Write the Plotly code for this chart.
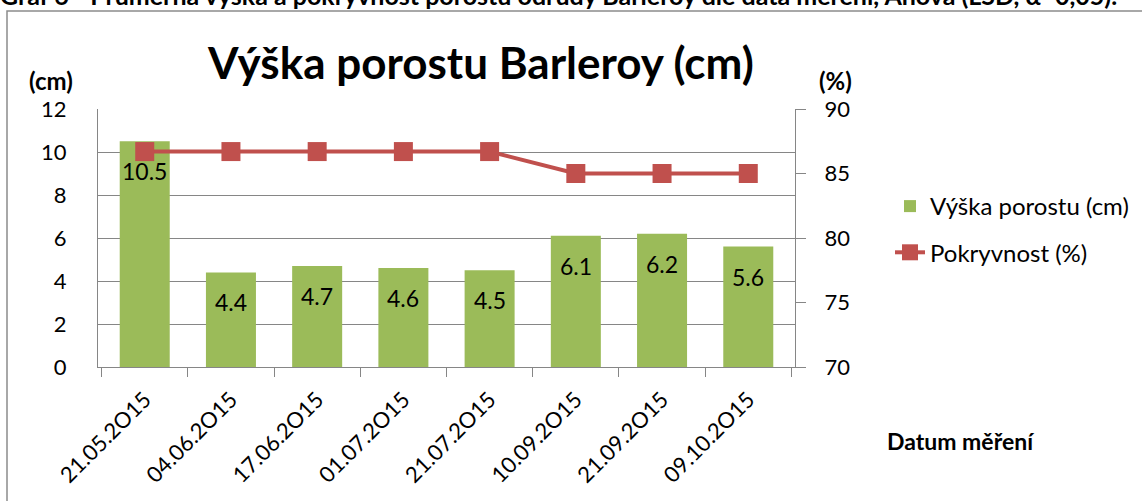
import plotly.graph_objects as go

# ---- data ----
dates = ["21.05.2O15", "04.06.2O15", "17.06.2O15", "01.07.2O15",
         "21.07.2O15", "10.09.2O15", "21.09.2O15", "09.10.2O15"]
vyska_cm = [10.5, 4.4, 4.7, 4.6, 4.5, 6.1, 6.2, 5.6]
pokryvnost_pct = [86.7, 86.7, 86.7, 86.7, 86.7, 85.0, 85.0, 85.0]

header = "Graf 6 - Průměrná výška a pokryvnost porostu odrůdy Barleroy dle data měření, Anova (LSD, α=0,05)."
title = "Výška porostu Barleroy (cm)"

# ---- layout geometry (pixels) ----
W, H = 1142, 501
L, R, T, B = 98, 795, 109, 367
FONT = "Lato, Calibri, sans-serif"
GRID = "#868686"
GREEN = "#9BBB59"
RED = "#C0504D"

def px_x(p):
    return (p - L) / (R - L)

def px_y(p):
    return 1 - (p - T) / (B - T)

fig = go.Figure()
fig.add_trace(go.Bar(
    x=dates, y=vyska_cm, name="Výška porostu (cm)",
    marker=dict(color=GREEN, line=dict(width=0)),
    legendgroup="a", yaxis="y",
))
fig.add_trace(go.Scatter(
    x=dates, y=pokryvnost_pct, name="Pokryvnost (%)",
    mode="lines+markers",
    line=dict(color=RED, width=4),
    marker=dict(symbol="square", size=19, color=RED),
    legendgroup="b", yaxis="y2",
))

annotations = []
for d, v in zip(dates, vyska_cm):
    annotations.append(dict(
        x=d, y=v, xref="x", yref="y", text=f"{v:.1f}", showarrow=False,
        yanchor="top", yshift=-14, font=dict(size=23, color="black", family=FONT),
    ))

annotations += [
    dict(x=px_x(481), y=px_y(62), xref="paper", yref="paper", text=f"<b>{title}</b>",
         showarrow=False, xanchor="center", yanchor="middle",
         font=dict(size=44, color="black", family=FONT)),
    dict(x=px_x(51), y=px_y(80), xref="paper", yref="paper", text="<b>(cm)</b>",
         showarrow=False, xanchor="center", yanchor="middle",
         font=dict(size=24, color="black", family=FONT)),
    dict(x=px_x(835), y=px_y(80), xref="paper", yref="paper", text="<b>(%)</b>",
         showarrow=False, xanchor="center", yanchor="middle",
         font=dict(size=24, color="black", family=FONT)),
    dict(x=px_x(960), y=px_y(441), xref="paper", yref="paper", text="<b>Datum měření</b>",
         showarrow=False, xanchor="center", yanchor="middle",
         font=dict(size=23, color="black", family=FONT)),
    dict(x=px_x(-2), y=px_y(-5), xref="paper", yref="paper", text=f"<b>{header}</b>",
         showarrow=False, xanchor="left", yanchor="middle",
         font=dict(size=25, color="black", family=FONT)),
]

shapes = [dict(
    type="rect", xref="paper", yref="paper",
    x0=px_x(7), x1=px_x(1160), y0=px_y(11), y1=px_y(520),
    line=dict(color="#8c8c8c", width=1.5), fillcolor="rgba(0,0,0,0)", layer="below",
)]

fig.update_layout(
    width=W, height=H,
    margin=dict(l=L, r=W - R, t=T, b=H - B, pad=0, autoexpand=False),
    paper_bgcolor="white", plot_bgcolor="white",
    font=dict(family=FONT, size=22, color="black"),
    bargap=0.42,
    showlegend=True,
    legend=dict(
        x=px_x(890), y=px_y(184), xanchor="left", yanchor="top",
        font=dict(size=24, color="black", family=FONT),
        tracegroupgap=12, bgcolor="rgba(0,0,0,0)",
    ),
    xaxis=dict(
        type="category", tickangle=-45, showline=True, linecolor=GRID, linewidth=1,
        ticks="outside", tickson="boundaries", ticklen=9, tickcolor=GRID,
        showgrid=False, ticklabelstandoff=10,
        tickfont=dict(size=22, color="black", family=FONT),
    ),
    yaxis=dict(
        range=[0, 12], dtick=2, showgrid=True, gridcolor=GRID, gridwidth=1,
        showline=True, linecolor=GRID, linewidth=1, ticks="", zeroline=False,
        ticklabelstandoff=26,
        tickfont=dict(size=22, color="black", family=FONT),
    ),
    yaxis2=dict(
        range=[70, 90], dtick=5, overlaying="y", side="right", showgrid=False,
        showline=True, linecolor=GRID, linewidth=1, ticks="outside", ticklen=10,
        tickcolor=GRID, zeroline=False, ticklabelstandoff=14,
        tickfont=dict(size=22, color="black", family=FONT),
    ),
    annotations=annotations,
    shapes=shapes,
)

fig.write_html(
    "out.html",
    config={"displayModeBar": False},
    post_script="document.body.style.margin='0px';document.body.style.padding='0px';",
)
